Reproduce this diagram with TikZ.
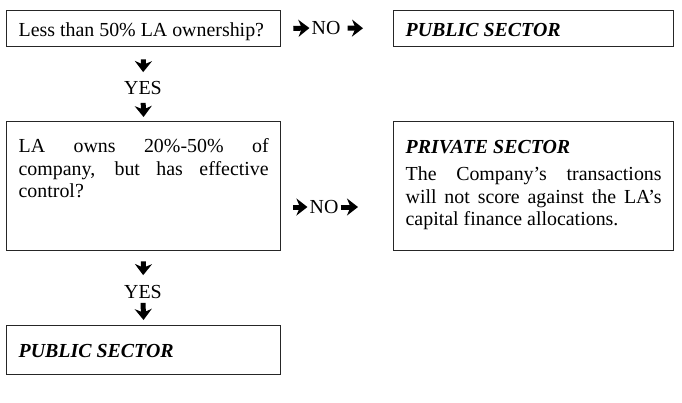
\documentclass[tikz,border=0pt]{standalone}
\usepackage{fontspec}
\setmainfont{Liberation Serif}
\usetikzlibrary{arrows.meta}

\begin{document}
\begin{tikzpicture}[x=1pt, y=-1pt,
  font=\fontsize{19.9}{22.5}\selectfont,
  box/.style={draw=black!85, line width=1.3pt, anchor=north west, inner xsep=12pt, inner ysep=0pt, align=justify},
  lbl/.style={inner sep=0pt},
  arr/.style={line width=5pt, -{Stealth[length=11pt, width=17pt, inset=3.5pt]}},
]
\useasboundingbox (0,0) rectangle (682,402);

% question boxes on the left, outcomes on the right
\node[box, text width=250pt, text height=26pt, text depth=10pt] (q1) at (6,10) {Less than 50\% LA ownership?};
\node[box, text width=256pt, text height=26pt, text depth=10pt] (pub1) at (393,10) {\textbf{\textit{PUBLIC SECTOR}}};
\node[box, text width=250pt, text height=31pt, text depth=98pt] (q2) at (6,121)
  {LA owns 20\%-50\% of\linebreak company, but has effective\linebreak control?};
\node[box, text width=256pt, text height=32pt, text depth=97pt] (priv) at (393,121)
  {\textbf{\textit{PRIVATE SECTOR}}\\[4.5pt]
   The Company's transactions\linebreak will not score against the LA's\linebreak capital finance allocations.};
\node[box, text width=250pt, text height=32pt, text depth=17pt] (pub2) at (6,325) {\textbf{\textit{PUBLIC SECTOR}}};

% yes / no labels
\node[lbl] (no1) at (326,28) {NO};
\node[lbl] (no2) at (324,207) {NO};
\node[lbl] (yes1) at (143,88) {YES};
\node[lbl] (yes2) at (143,292) {YES};

\draw[arr, shorten <=12pt, shorten >=2pt] (q1.east) -- (no1.west);
\draw[arr, shorten <=7pt, shorten >=30pt] (no1.east) -- (pub1.west);
\draw[arr, shorten <=12pt, shorten >=2pt] (q2.east |- no2) -- (no2.west);
\draw[arr, shorten <=2pt, shorten >=35pt] (no2.east) -- (no2.east -| priv.west);

\draw[arr, shorten <=12pt, shorten >=9pt] (q1.south) -- (yes1.north);
\draw[arr, shorten <=8pt, shorten >=4pt] (yes1.south) -- (q2.north);
\draw[arr, shorten <=10pt, shorten >=10pt] (q2.south) -- (yes2.north);
\draw[arr, shorten <=4pt, shorten >=5pt] (yes2.south) -- (pub2.north);
\end{tikzpicture}
\end{document}
